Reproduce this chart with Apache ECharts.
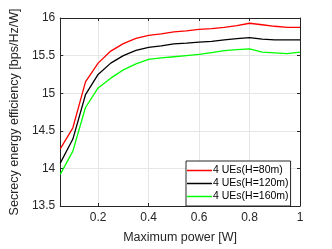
<!DOCTYPE html>
<html><head><meta charset="utf-8">
<script src="https://cdn.jsdelivr.net/npm/echarts@6/dist/echarts.min.js"></script>
<style>html,body{margin:0;padding:0;background:#fff}#c{width:332px;height:249px}</style>
</head><body><div id="c"></div>
<script>
const xValues = [0.05,0.1,0.15,0.2,0.25,0.3,0.35,0.4,0.45,0.5,0.55,0.6,0.65,0.7,0.75,0.8,0.85,0.9,0.95,1.0];
const redH80 = [14.26,14.54,15.15,15.40,15.56,15.66,15.73,15.77,15.79,15.815,15.83,15.85,15.86,15.875,15.90,15.93,15.91,15.89,15.875,15.875];
const blackH120 = [14.07,14.39,14.98,15.25,15.40,15.50,15.57,15.61,15.63,15.655,15.665,15.68,15.69,15.71,15.725,15.74,15.72,15.71,15.71,15.71];
const greenH160 = [13.92,14.23,14.81,15.07,15.20,15.31,15.39,15.45,15.47,15.485,15.50,15.515,15.54,15.565,15.58,15.59,15.545,15.535,15.525,15.545];
const seriesNames = ['4 UEs(H=80m)','4 UEs(H=120m)','4 UEs(H=160m)'];
const xTicks = [0.2,0.4,0.6,0.8,1];
const yTicks = [13.5,14,14.5,15,15.5,16];
const colors = ['#ff0000','#000000','#00ff00'];
const FONT = 'Liberation Sans, Arial, sans-serif';
const pair = a => xValues.map((x,i)=>[x,a[i]]);
const chart = echarts.init(document.getElementById('c'), null, {renderer:'canvas'});
const axisColor = '#262626';
const xCommon = {
  type:'value', min:0.05, max:1,
  axisLine:{show:true,lineStyle:{color:axisColor,width:1}},
  axisTick:{show:true,inside:true,length:3,customValues:xTicks,lineStyle:{color:axisColor}},
  splitLine:{show:false},
};
const yCommon = {
  type:'value', min:13.5, max:16, interval:0.5,
  axisLine:{show:true,lineStyle:{color:axisColor,width:1}},
  axisTick:{show:true,inside:true,length:3,lineStyle:{color:axisColor}},
};
chart.setOption({
  animation:false,
  color:colors,
  textStyle:{fontFamily:FONT},
  grid:{left:45,right:32,top:18,bottom:37,containLabel:false},
  legend:{
    orient:'vertical', left:186, top:161,
    data:seriesNames.map(n=>({name:n,icon:'rect'})),
    backgroundColor:'#fff', borderColor:'#262626', borderWidth:1,
    padding:[4,2,4,1], itemGap:2, itemWidth:25, itemHeight:1.5,
    textStyle:{fontSize:10.5,color:'#000',fontFamily:FONT,padding:[0,0,0,-4]}
  },
  xAxis:[
    Object.assign({}, xCommon, {
      position:'bottom',
      name:'Maximum power [W]', nameLocation:'middle', nameGap:25,
      nameTextStyle:{fontSize:12.5,color:axisColor,fontFamily:FONT},
      axisLabel:{show:true,customValues:xTicks,fontSize:12,color:axisColor,margin:6,fontFamily:FONT,
        formatter:v=>String(+v.toFixed(2))},
      splitLine:{show:true,lineStyle:{color:'#e6e6e6',width:1}}
    }),
    Object.assign({}, xCommon, {position:'top', axisLabel:{show:false}})
  ],
  yAxis:[
    Object.assign({}, yCommon, {
      position:'left',
      name:'Secrecy energy efficiency [bps/Hz/W]', nameLocation:'middle', nameGap:31,
      nameTextStyle:{fontSize:12.5,color:axisColor,fontFamily:FONT},
      axisLabel:{show:true,fontSize:12,color:axisColor,margin:5,fontFamily:FONT},
      splitLine:{show:true,lineStyle:{color:'#e6e6e6',width:1}}
    }),
    Object.assign({}, yCommon, {position:'right', axisLabel:{show:false}, splitLine:{show:false}})
  ],
  series:[redH80,blackH120,greenH160].map((d,i)=>({
    name:seriesNames[i], type:'line', data:pair(d), symbol:'none',
    lineStyle:{width:1.3,color:colors[i]}, itemStyle:{color:colors[i]},
    xAxisIndex:0, yAxisIndex:0
  }))
});
</script></body></html>
